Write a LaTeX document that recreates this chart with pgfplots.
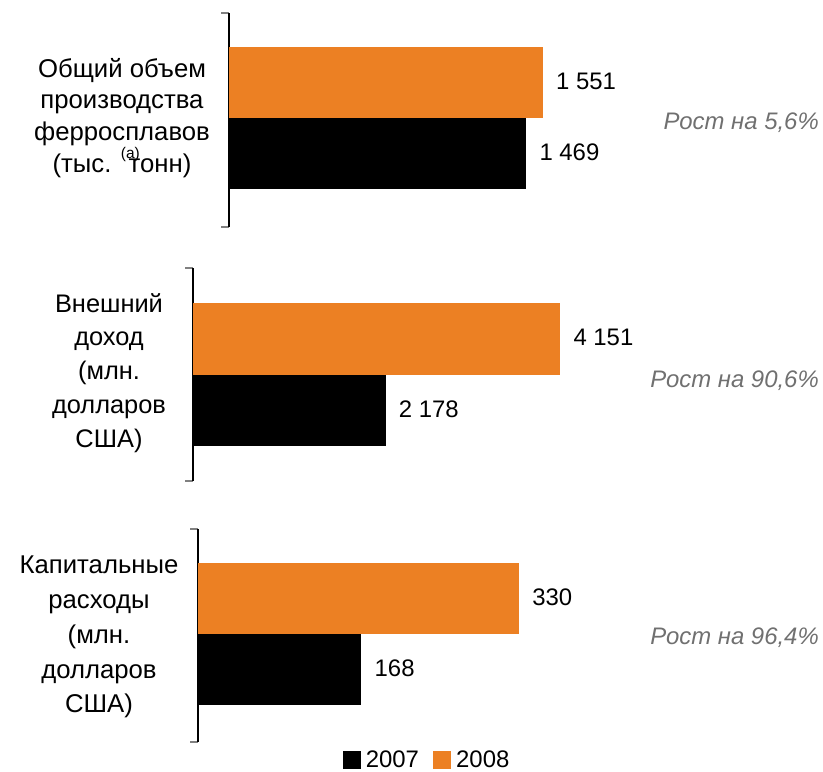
\documentclass[border=0pt]{standalone}
\usepackage{fontspec}
\setmainfont{Liberation Sans}
\usepackage{pgfplots}
\pgfplotsset{compat=1.18}
\definecolor{myorange}{RGB}{236,128,35}
\definecolor{mygray}{RGB}{112,112,112}
\pgfplotsset{panel/.style={
  scale only axis, axis x line=none, axis y line*=left,
  y axis line style={line width=1.5bp,-},
  ytick style={line width=1.5bp},
  tick align=outside, major tick length=8bp,
  yticklabels={}, xmin=0, clip=false,
  nodes near coords, point meta=explicit symbolic,
  every node near coord/.append style={font=\fontsize{24}{24}\selectfont, anchor=west, inner sep=0pt, xshift=13bp, yshift=1.5bp, text=black},
  anchor=south west,
}}
\begin{document}
\begin{tikzpicture}
\useasboundingbox (0,0) rectangle (823bp,772bp);
% Panel 1
\begin{axis}[panel, at={(229bp,545bp)}, x=0.2024bp, y=71bp, xmax=2500,
  ymin=-1.035, ymax=1.979, ytick={-1.035,1.979}]
\addplot[xbar, bar width=1, bar shift=0pt, fill=myorange, draw=none, forget plot] coordinates {(1551,1) [1 551]};
\addplot[xbar, bar width=1, bar shift=0pt, fill=black, draw=none, forget plot] coordinates {(1469,0) [1 469]};
\end{axis}
% Panel 2
\begin{axis}[panel, at={(193bp,291bp)}, x=0.0885bp, y=71.5bp, xmax=6000,
  ymin=-0.983, ymax=1.997, ytick={-0.983,1.997}]
\addplot[xbar, bar width=1, bar shift=0pt, fill=myorange, draw=none, forget plot] coordinates {(4151,1) [4 151]};
\addplot[xbar, bar width=1, bar shift=0pt, fill=black, draw=none, forget plot] coordinates {(2178,0) [2 178]};
\end{axis}
% Panel 3
\begin{axis}[panel, at={(198bp,30bp)}, x=0.973bp, y=71bp, xmax=450,
  ymin=-1.021, ymax=1.979, ytick={-1.021,1.979},
  legend columns=2,
  legend style={draw=none, fill=none, at={(axis description cs:0.523,-0.082)}, anchor=center,
    font=\fontsize{24}{24}\selectfont, inner sep=0pt,
    /tikz/every even column/.append style={column sep=12bp}}]
\addplot[xbar, bar width=1, bar shift=0pt, fill=myorange, draw=none, forget plot] coordinates {(330,1) [330]};
\addplot[xbar, bar width=1, bar shift=0pt, fill=black, draw=none, forget plot] coordinates {(168,0) [168]};
\addlegendimage{legend image code/.code={\fill[black] (0bp,-8.5bp) rectangle (17bp,8.5bp);\path[draw=none,fill=none] (0bp,0bp) -- (21bp,0bp);}}
\addlegendentry{2007}
\addlegendimage{legend image code/.code={\fill[myorange] (0bp,-8.5bp) rectangle (17bp,8.5bp);\path[draw=none,fill=none] (0bp,0bp) -- (21bp,0bp);}}
\addlegendentry{2008}
\end{axis}
% Category labels
\node[align=center, font=\fontsize{25.8}{32}\selectfont] at (122bp,654bp)
 {Общий объем\\производства\\ферросплавов\\(тыс. \makebox[0.3em][l]{\raisebox{0.55em}{\fontsize{15.5}{15.5}\selectfont(a)}}тонн)};
\node[align=center, font=\fontsize{25.5}{34}\selectfont] at (109bp,399bp)
 {Внешний\\доход\\(млн.\\долларов\\США)};
\node[align=center, font=\fontsize{25.8}{35}\selectfont] at (99bp,135bp)
 {Капитальные\\расходы\\(млн.\\долларов\\США)};
% Growth labels
\node[anchor=base east, text=mygray, font=\fontsize{24}{24}\selectfont\itshape, inner sep=0pt] at (819bp,642.5bp) {Рост на 5,6\%};
\node[anchor=base east, text=mygray, font=\fontsize{24}{24}\selectfont\itshape, inner sep=0pt] at (819bp,384.5bp) {Рост на 90,6\%};
\node[anchor=base east, text=mygray, font=\fontsize{24}{24}\selectfont\itshape, inner sep=0pt] at (819bp,127.5bp) {Рост на 96,4\%};
\end{tikzpicture}
\end{document}
